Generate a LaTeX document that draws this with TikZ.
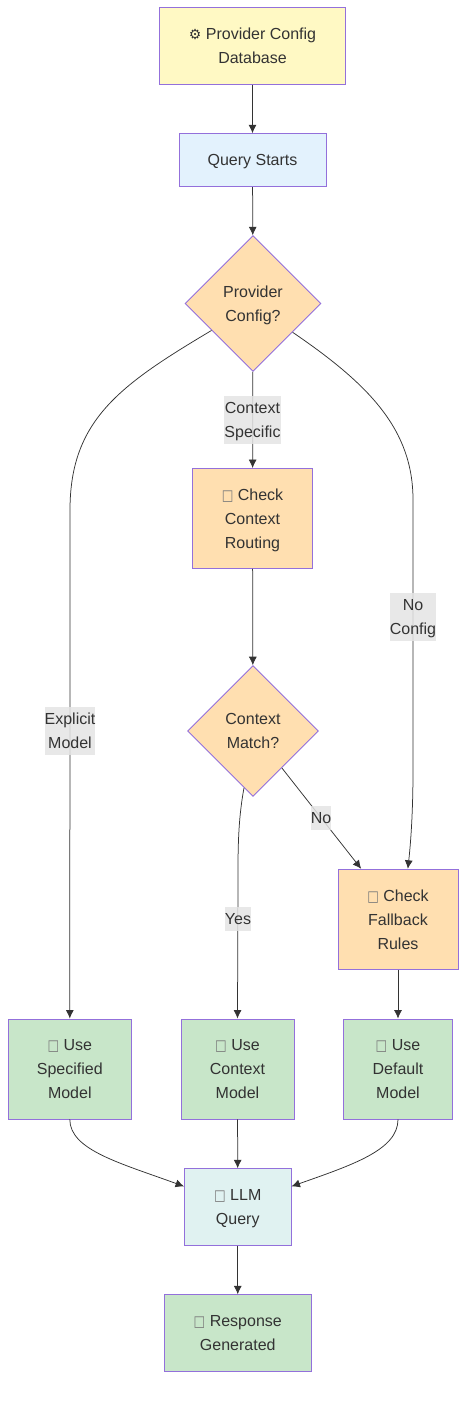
\documentclass[tikz,border=0pt]{standalone}
\usepackage{graphicx}
\usepackage{fontspec}
\setmainfont{Liberation Sans}
\newfontfamily\symfont{DejaVu Sans}
\usepackage{tikz}
\usetikzlibrary{arrows.meta,positioning,shapes.geometric}
\definecolor{edgeink}{HTML}{333333}
\definecolor{nodeline}{HTML}{9370DB}
\definecolor{dbfill}{HTML}{FFF9C4}
\definecolor{startfill}{HTML}{E3F2FD}
\definecolor{checkfill}{HTML}{FFDFB0}
\definecolor{modelfill}{HTML}{C8E6C9}
\definecolor{llmfill}{HTML}{E0F2F1}
\definecolor{labelfill}{HTML}{E4E4E4}
\newcommand{\tofu}{{\symfont\fontsize{15}{24}\selectfont\color{edgeink!65}\scalebox{.82}[1]{□}}}
\newcommand{\linestrut}{\rule[-6.5pt]{0pt}{24pt}}

\begin{document}
\begin{tikzpicture}[x=1pt, y=-1pt,
  concept/.style={rectangle, draw=nodeline, line width=0.9pt, inner sep=0pt, align=center,
                  text=edgeink, font=\fontsize{16}{24}\selectfont,
                  execute at begin node=\linestrut},
  decision/.style={concept, diamond, fill=checkfill, aspect=1},
  edgelabel/.style={rectangle, fill=labelfill, fill opacity=0.85, text opacity=1, inner sep=0pt,
                    align=center, text=edgeink, font=\fontsize{16}{24}\selectfont,
                    execute at begin node=\linestrut},
  arrow/.style={-{Latex[length=8.5pt,width=8pt]}, edgeink, line width=0.75pt}
]
\useasboundingbox (0,0) rectangle (474,1401);

% Top of the flow
\node[concept, fill=dbfill, minimum width=186pt, minimum height=76.5pt] (config) at (252.5,46)
  {\linestrut{\symfont\fontsize{14}{24}\selectfont ⚙} Provider Config\\Database};
\node[concept, fill=startfill, minimum width=147pt, minimum height=53pt] (query) at (252.5,160.2)
  {Query Starts};
\node[decision, minimum width=136pt, minimum height=136pt] (provider) at (253,303.5)
  {\linestrut Provider\\Config?};

% Routing branch
\node[concept, fill=checkfill, minimum width=120pt, minimum height=100pt] (routing) at (252.5,518.5)
  {\linestrut\tofu{} Check\\Context\\Routing};
\node[decision, minimum width=131pt, minimum height=131pt] (match) at (253,731)
  {\linestrut Context\\Match?};
\node[concept, fill=checkfill, minimum width=120pt, minimum height=100.5pt] (fallback) at (398,919.5)
  {\linestrut\tofu{} Check\\Fallback\\Rules};

% Models
\node[concept, fill=modelfill, minimum width=123.5pt, minimum height=100pt] (specified) at (69.8,1069)
  {\linestrut\tofu{} Use\\Specified\\Model};
\node[concept, fill=modelfill, minimum width=113pt, minimum height=100pt] (ctxmodel) at (237.5,1069)
  {\linestrut\tofu{} Use\\Context\\Model};
\node[concept, fill=modelfill, minimum width=108.5pt, minimum height=100pt] (defmodel) at (398,1069)
  {\linestrut\tofu{} Use\\Default\\Model};

% Bottom of the flow
\node[concept, fill=llmfill, minimum width=106.5pt, minimum height=76.5pt] (llm) at (237.75,1207)
  {\linestrut\tofu{} LLM\\Query};
\node[concept, fill=modelfill, minimum width=146.5pt, minimum height=76.5pt] (response) at (237.75,1333)
  {\linestrut\tofu{} Response\\Generated};

% Arrows
\draw[arrow] (config) -- (query);
\draw[arrow] (query) -- (provider);
\draw[arrow] (provider) -- (routing);
\draw[arrow] (routing) -- (match);
\draw[arrow] (provider.213) .. controls (120,385) and (70,420) .. (70,510) -- (specified.north);
\draw[arrow] (provider.-36) .. controls (370,385) and (413,430) .. (413,500)
  -- (413,770) .. controls (413,810) and (411,840) .. (fallback.79);
\draw[arrow] (match.-52) -- (fallback.126);
\draw[arrow] (match.-99) .. controls (239,815) and (238,840) .. (238,870) -- (ctxmodel.north);
\draw[arrow] (fallback) -- (defmodel);
\draw[arrow] (specified.south) .. controls (70,1150) and (120,1163) .. (llm.159);
\draw[arrow] (ctxmodel) -- (llm);
\draw[arrow] (defmodel.south) .. controls (398,1150) and (352,1165) .. (llm.21);
\draw[arrow] (llm) -- (response);

% Edge labels
\node[edgelabel, minimum width=55pt, minimum height=47pt] (lblspecific) at (252.5,419.5) {\linestrut Context\\Specific};
\node[edgelabel, minimum width=50pt, minimum height=47pt] (lblexplicit) at (70,731) {\linestrut Explicit\\Model};
\node[edgelabel, minimum width=45.5pt, minimum height=47pt] (lblnoconfig) at (413,617) {\linestrut No\\Config};
\node[edgelabel, minimum width=20pt, minimum height=24pt] (lblno) at (321,818) {No};
\node[edgelabel, minimum width=26pt, minimum height=24pt] (lblyes) at (238,918.5) {Yes};
\end{tikzpicture}
\end{document}
